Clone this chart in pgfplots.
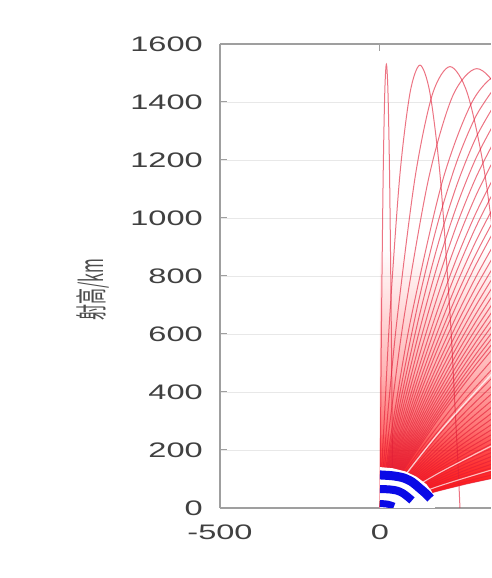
\documentclass[border=0pt]{standalone}
\usepackage{pgfplots}
\pgfplotsset{compat=1.18}
\usetikzlibrary{fadings}
\usepackage{graphicx}
\usepackage{fontspec}
\setmainfont{Liberation Sans}[FakeStretch=1.55]
\newfontfamily\cjk{Noto Sans CJK SC}
\definecolor{traj}{RGB}{225,30,55}
\definecolor{bandblue}{RGB}{10,10,230}
\pgfplotsset{traj/.style={color=traj, line width=1.0pt, opacity=0.62, smooth, mark=none},
  redfill/.style={fill=red, draw=none, mark=none}}
\begin{document}
\begin{tikzpicture}
\path (0pt,0pt) rectangle (491pt,578pt);
\begin{axis}[
  at={(220pt,70pt)}, anchor=south west,
  scale only axis, width=271pt, height=464pt,
  xmin=-500, xmax=347, ymin=0, ymax=1600,
  axis x line=box, axis y line=left,
  xtick={-500,0}, xticklabels={-500,0},
  ytick={0,200,...,1600}, yticklabels={0,200,400,600,800,1000,1200,1400,1600},
  tick align=inside, major tick length=7pt,
  ymajorgrids, grid style={gray!18, line width=0.5pt},
  axis line style={gray!75, line width=1.2pt, -},
  tick style={gray!75, line width=1pt},
  tick label style={font=\fontsize{21}{25}\selectfont, text=black!75, inner sep=0pt},
  yticklabel style={xshift=-17pt},
  xticklabel style={yshift=-17pt},
  ylabel={\scalebox{1}[2.0]{\cjk\fontsize{16}{18}\selectfont 射高/km}},
  ylabel style={at={(axis description cs:-0.4706,0.47)}, anchor=center, text=black!70, inner sep=0pt},
]
% density of the overlapping trajectories
\addplot[redfill, fill opacity=0.6, path fading=north] coordinates {(0,0) (0,900) (360,900) (360,104) (270,83) (180,58) (90,30) (0,0)};
\addplot[redfill, fill opacity=0.55, path fading=north] coordinates {(0,0) (0,460) (360,460) (360,104) (270,83) (180,58) (90,30) (0,0)};
\addplot[redfill, fill opacity=0.75, path fading=north] coordinates {(0,0) (0,250) (60,262) (130,275) (200,280) (280,275) (360,265) (360,104) (270,83) (180,58) (90,30) (0,0)};
% high trajectories (loops)
\addplot[traj] coordinates {(0,0) (1,149) (2.5,359) (5,669) (10,1148) (15,1434) (20,1530) (25,1434) (30,1148) (35,669) (37.5,359) (39,149) (40,0)};
\addplot[traj] coordinates {(0,0) (6,149) (16,358) (31,668) (62,1146) (94,1432) (125,1527) (156,1432) (188,1146) (219,668) (234,358) (244,149) (250,0)};
\addplot[traj] coordinates {(0,0) (11,148) (27,357) (55,666) (110,1142) (164,1427) (219,1522) (274,1427) (329,1142) (383,666) (411,357) (427,148) (438,0)};
\addplot[traj] coordinates {(0,0) (15,148) (38,355) (76,663) (152,1136) (227,1420) (303,1515) (379,1420) (455,1136)};
\addplot[traj] coordinates {(0,0) (20,150) (49,353) (98,660) (196,1130) (293,1410) (391,1505) (489,1410)};
% steeper ascending trajectories
\addplot[traj] coordinates {(0,0) (60,383.1) (120,709.7) (180,980) (240,1193.8) (300,1351.2) (360,1452.1)};
\addplot[traj] coordinates {(0,0) (60,347) (120,649) (180,904) (240,1113) (300,1277) (360,1394)};
\addplot[traj] coordinates {(0,0) (60,317.7) (120,597.2) (180,838.4) (240,1041.5) (300,1206.2) (360,1332.7)};
\addplot[traj] coordinates {(0,0) (60,292.5) (120,552.8) (180,780.7) (240,976.3) (300,1139.6) (360,1270.5)};
\addplot[traj] coordinates {(0,0) (60,270.9) (120,514.1) (180,729.6) (240,917.4) (300,1077.6) (360,1210.1)};
\addplot[traj] coordinates {(0,0) (60,251.4) (120,478.9) (180,682.3) (240,861.9) (300,1017.4) (360,1149)};
\addplot[traj] coordinates {(0,0) (60,235.8) (120,450.7) (180,644.6) (240,817.5) (300,969.5) (360,1100.4)};
\addplot[traj] coordinates {(0,0) (60,221) (120,423.7) (180,607.7) (240,773.3) (300,920.3) (360,1048.8)};
\addplot[traj] coordinates {(0,0) (60,208.2) (120,399.8) (180,575) (240,733.6) (300,875.9) (360,1001.6)};
\addplot[traj] coordinates {(0,0) (60,197.3) (120,379.9) (180,547.8) (240,700.8) (300,839.1) (360,962.6)};
\addplot[traj] coordinates {(0,0) (60,186) (120,358.7) (180,518.1) (240,664.1) (300,797) (360,916.4)};
\addplot[traj] coordinates {(0,0) (60,176.5) (120,340.9) (180,493.3) (240,633.6) (300,761.8) (360,878)};
\addplot[traj] coordinates {(0,0) (60,167.8) (120,324.5) (180,470.3) (240,605.2) (300,728.9) (360,841.8)};
\addplot[traj] coordinates {(0,0) (60,159.8) (120,309.5) (180,449.2) (240,578.8) (300,698.4) (360,807.9)};
\addplot[traj] coordinates {(0,0) (60,152.5) (120,295.7) (180,429.8) (240,554.5) (300,670) (360,776.2)};
\addplot[traj] coordinates {(0,0) (60,145.7) (120,282.9) (180,411.6) (240,531.8) (300,643.4) (360,746.5)};
\addplot[traj] coordinates {(0,0) (60,139.4) (120,271.1) (180,394.8) (240,510.5) (300,618.4) (360,718.4)};
\addplot[traj] coordinates {(0,0) (60,133.6) (120,260) (180,379) (240,490.7) (300,594.9) (360,691.9)};
\addplot[traj] coordinates {(0,0) (60,128.3) (120,249.6) (180,364.2) (240,471.9) (300,572.8) (360,666.8)};
\addplot[traj] coordinates {(0,0) (60,123.2) (120,239.9) (180,350.3) (240,454.2) (300,551.9) (360,643.1)};
\addplot[traj] coordinates {(0,0) (60,118.2) (120,230.4) (180,336.7) (240,437) (300,531.2) (360,619.4)};
\addplot[traj] coordinates {(0,0) (60,114) (120,222.2) (180,325) (240,422) (300,513.4) (360,599.2)};
\addplot[traj] coordinates {(0,0) (60,109.7) (120,214.1) (180,313.2) (240,407.1) (300,495.5) (360,578.7)};
\addplot[traj] coordinates {(0,0) (60,105.7) (120,206.5) (180,302.2) (240,393) (300,478.6) (360,559.3)};
% lower trajectories
\addplot[traj] coordinates {(0,0) (90,145.9) (180,281.6) (270,407.3) (360,522.7)};
\addplot[traj] coordinates {(0,0) (90,136.1) (180,263.3) (270,381.2) (360,490)};
\addplot[traj] coordinates {(0,0) (90,127.3) (180,246.3) (270,357) (360,459.5)};
\addplot[traj] coordinates {(0,0) (90,119.2) (180,230.7) (270,334.8) (360,431.2)};
\addplot[traj] coordinates {(0,0) (90,111.7) (180,216.4) (270,314.2) (360,404.9)};
\addplot[traj] coordinates {(0,0) (90,104.8) (180,203.1) (270,295) (360,380.4)};
\addplot[traj] coordinates {(0,0) (90,98.4) (180,190.9) (270,277.3) (360,357.7)};
\addplot[traj] coordinates {(0,0) (90,92.4) (180,179.2) (270,260.3) (360,335.8)};
\addplot[traj] coordinates {(0,0) (90,86.8) (180,168.2) (270,244.4) (360,315.4)};
\addplot[traj] coordinates {(0,0) (90,81.4) (180,158) (270,229.5) (360,296.1)};
\addplot[traj] coordinates {(0,0) (90,76.5) (180,148.2) (270,215.4) (360,277.7)};
\addplot[traj] coordinates {(0,0) (90,71.7) (180,139) (270,201.9) (360,260.2)};
\addplot[traj] coordinates {(0,0) (90,67.2) (180,130.2) (270,188.9) (360,243.5)};
\addplot[traj] coordinates {(0,0) (90,62.9) (180,121.8) (270,176.6) (360,227.4)};
\addplot[traj] coordinates {(0,0) (90,58.8) (180,113.7) (270,164.8) (360,212)};
\addplot[traj] coordinates {(0,0) (90,54.9) (180,105.9) (270,153.4) (360,197.1)};
\addplot[traj] coordinates {(0,0) (90,51) (180,98.5) (270,142.4) (360,182.7)};
\addplot[traj] coordinates {(0,0) (90,47.4) (180,91.2) (270,131.7) (360,168.8)};
\addplot[traj] coordinates {(0,0) (90,43.8) (180,84.3) (270,121.4) (360,155.2)};
\addplot[traj] coordinates {(0,0) (90,40.4) (180,77.5) (270,111.4) (360,142.1)};
\addplot[traj] coordinates {(0,0) (90,37) (180,70.8) (270,101.6) (360,129.2)};
\addplot[traj] coordinates {(0,0) (90,33.8) (180,64.4) (270,92.1) (360,116.7)};
\addplot[traj] coordinates {(0,0) (90,30.5) (180,58.1) (270,82.7) (360,104.3)};
% light gaps in the fan
\addplot[white, line width=1.3pt, opacity=0.75, smooth, mark=none] coordinates {(0,0) (180,254.5) (360,474.4)};
\addplot[white, line width=1.1pt, opacity=0.7, smooth, mark=none] coordinates {(0,0) (180,118.1) (360,220.5)};
\addplot[white, line width=1.1pt, opacity=0.7, smooth, mark=none] coordinates {(0,0) (180,73.8) (360,134.9)};
% white halo inside the blue arcs
\addplot[fill=white, draw=none, mark=none] coordinates {(0,0) (0,141) (40,137) (80,126) (115,107) (145,82) (160,60) (170,40) (172,0) (0,0)};
% blue arcs
\addplot[bandblue, line width=9pt, smooth, mark=none] coordinates {(0,114) (40,111) (73,104) (100,90) (120,72) (140,53) (158,33)};
\addplot[bandblue, line width=8pt, smooth, mark=none] coordinates {(0,65.5) (30,64) (53,60) (70,52) (84,41) (100,26)};
\addplot[bandblue, line width=7pt, smooth, mark=none] coordinates {(0,15.5) (25,13) (44,6)};
\end{axis}
\end{tikzpicture}
\end{document}
